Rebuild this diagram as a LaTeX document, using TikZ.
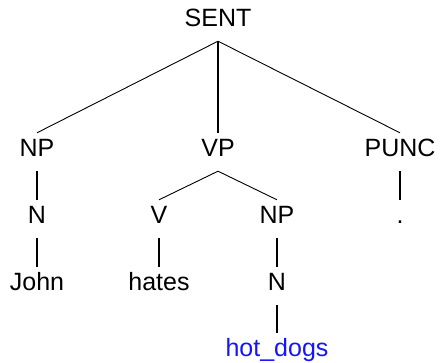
\documentclass[tikz,border=0pt]{standalone}
\usepackage{fontspec}
\setmainfont{Liberation Sans}
\definecolor{leafblue}{RGB}{20,20,255}
\begin{document}
\begin{tikzpicture}[x=1pt,y=-1pt,
  lab/.style={anchor=base,inner xsep=0pt,inner ysep=7pt,text height=17pt,text depth=7pt,
    font=\fontsize{25}{30}\selectfont},
  diag/.style={draw=black,line width=0.9pt},
  vert/.style={draw=black,line width=1.5pt}]
\useasboundingbox (0,0) rectangle (440,363);
\node[lab] (sent) at (218,27) {SENT};
\node[lab] (np) at (37,157) {NP};
\node[lab] (vp) at (218,157) {VP};
\node[lab] (punc) at (400,157) {PUNC};
\node[lab] (n1) at (37,224) {N};
\node[lab] (v) at (159,224) {V};
\node[lab] (np2) at (277,224) {NP};
\node[lab] (dot) at (400,224) {.};
\node[lab] (john) at (37,291) {John};
\node[lab] (hates) at (159,291) {hates};
\node[lab] (n2) at (277,291) {N};
\node[lab,text=leafblue] (hot) at (277,357) {hot\_dogs};
\draw[diag] (sent.south) -- (np.north);
\draw[vert] (sent.south) -- (vp.north);
\draw[diag] (sent.south) -- (punc.north);
\draw[vert] (np.south) -- (n1.north);
\draw[vert] (n1.south) -- (john.north);
\draw[diag] (vp.south) -- (v.north);
\draw[diag] (vp.south) -- (np2.north);
\draw[vert] (v.south) -- (hates.north);
\draw[vert] (np2.south) -- (n2.north);
\draw[vert] (n2.south) -- (hot.north);
\draw[vert] (punc.south) -- (dot.north);
\end{tikzpicture}
\end{document}
